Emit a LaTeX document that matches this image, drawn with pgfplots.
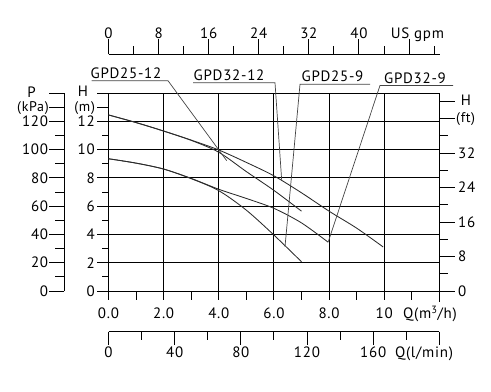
\documentclass[border=0pt]{standalone}
\usepackage{pgfplots}
\pgfplotsset{compat=1.18}
\usepackage{fontspec}
\setmainfont{PT Sans}[LetterSpace=5]
\definecolor{crv}{HTML}{2B2B2B}
\definecolor{ldr}{HTML}{444444}
\begin{document}
\begin{tikzpicture}[x=1bp,y=1bp, font=\fontsize{15bp}{17bp}\selectfont]
\useasboundingbox (-108.5,-100) rectangle (382.5,291);
\begin{axis}[
  at={(0,0)}, anchor=origin,
  x=27.57bp, y=14.13bp,
  xmin=0, xmax=12, ymin=0, ymax=14,
  xtick={2,4,...,10}, ytick={2,4,...,12},
  xticklabels={}, yticklabels={},
  major tick length=0pt,
  grid=major,
  grid style={black, line width=1bp},
  axis line style={black, line width=1bp},
  clip=false,
]
% GPD32-12
\addplot[smooth, crv, line width=0.85bp] coordinates {(0,12.46) (1,11.92) (2,11.32) (3,10.68) (4,9.98) (5,9.1) (6,8.15) (7,6.95) (8,5.65) (9,4.45) (9.96,3.12)};
% GPD25-12
\addplot[smooth, crv, line width=0.85bp] coordinates {(0,12.46) (1,11.92) (2,11.32) (3,10.66) (4,9.82) (5,8.45) (6,7.12) (7,5.65)};
% GPD32-9
\addplot[smooth, crv, line width=0.85bp] coordinates {(0,9.36) (1,9.05) (2,8.63) (3,7.97) (4,7.2) (5,6.55) (6,5.85) (7,4.82) (7.97,3.45)};
% GPD25-9
\addplot[smooth, crv, line width=0.85bp] coordinates {(0,9.36) (1,9.05) (2,8.63) (3,7.95) (4,7.1) (5,5.72) (6,3.96) (7,2.07)};
\end{axis}
% ---- main x ticks and labels
\foreach \q in {0,...,11} {\draw[line width=1bp] (27.57*\q,0) -- (27.57*\q,-9);}
\draw[line width=1bp] (330.84,0) -- (330.84,-11);
\foreach \q/\t in {0/0.0,2/2.0,4/4.0,6/6.0,8/8.0,10/10} {\node[anchor=base,inner sep=0] at (27.57*\q,-27.3) {\t};}
\node[anchor=base,inner sep=0] at (321.5,-27.3) {Q(m\textsuperscript{3}/h)};
% ---- left H (m) axis
\foreach \h in {1,3,...,11} {\draw[line width=1bp] (0,14.13*\h) -- (-6.7,14.13*\h);}
\foreach \h in {0,2,...,14,13} {\draw[line width=1bp] (0,14.13*\h) -- (-11.7,14.13*\h);}
\foreach \h in {0,2,...,12} {\node[anchor=east,inner sep=0] at (-13.5,14.13*\h) {\h};}
\node[anchor=east,inner sep=0,font=\fontsize{14bp}{16bp}\selectfont] at (-13.3,182.8) {(m)};
\node[anchor=center,inner sep=0] at (-25.5,199.3) {H};
% ---- P (kPa) axis
\draw[line width=1bp] (-44.5,0) -- (-44.5,197.82);
\foreach \h in {1,3,...,11} {\draw[line width=1bp] (-44.5,14.13*\h) -- (-53.5,14.13*\h);}
\foreach \h in {0,2,...,14,13} {\draw[line width=1bp] (-44.5,14.13*\h) -- (-59.2,14.13*\h);}
\foreach \h/\t in {0/0,2/20,4/40,6/60,8/80,10/100,12/120} {\node[anchor=east,inner sep=0] at (-60.2,14.13*\h) {\t};}
\node[anchor=east,inner sep=0,font=\fontsize{14bp}{16bp}\selectfont] at (-59.5,182.8) {(kPa)};
\node[anchor=center,inner sep=0] at (-77,199.3) {P};
% ---- right H (ft) axis
\foreach \f in {4,12,20,28,36} {\draw[line width=1bp] (330.84,4.3068*\f) -- (339.8,4.3068*\f);}
\foreach \f in {0,8,16,24,32,40,44} {\draw[line width=1bp] (330.84,4.3068*\f) -- (346.8,4.3068*\f);}
\foreach \f in {0,8,16,24,32} {\node[anchor=west,inner sep=0] at (349.5,4.3068*\f) {\f};}
\node[anchor=west,inner sep=0,font=\fontsize{14bp}{16bp}\selectfont] at (347.5,171.8) {(ft)};
\node[anchor=center,inner sep=0] at (357.5,190.5) {H};
% ---- top US gpm axis
\draw[line width=1bp] (0,236.7) -- (331.5,236.7);
\foreach \g in {0,8,...,48} {\draw[line width=1bp] (6.2617*\g,236.7) -- ++(0,15);}
\foreach \g in {4,12,...,52} {\draw[line width=1bp] (6.2617*\g,236.7) -- ++(0,8);}
\foreach \g in {0,8,...,40} {\node[anchor=base,inner sep=0] at (6.2617*\g,252.7) {\g};}
\node[anchor=base,inner sep=0] at (309,252.7) {US gpm};
% ---- bottom l/min axis
\draw[line width=1bp] (0,-40.7) -- (330.84,-40.7);
\foreach \l in {0,40,...,200} {\draw[line width=1bp] (1.6542*\l,-40.7) -- ++(0,-13);}
\foreach \l in {20,60,...,180} {\draw[line width=1bp] (1.6542*\l,-40.7) -- ++(0,-8);}
\foreach \l in {0,40,...,160} {\node[anchor=base,inner sep=0] at (1.6542*\l,-66.7) {\l};}
\node[anchor=base,inner sep=0] at (315.5,-66.7) {Q(l/min)};
% ---- leaders and model labels
\node[anchor=base,inner sep=0] at (17.5,212.7) {GPD25-12};
\draw[ldr,line width=0.7bp] (-16.8,210.3) -- (59.5,210.3) -- (118.2,130.3);
\node[anchor=base,inner sep=0] at (120.5,211) {GPD32-12};
\draw[ldr,line width=0.7bp] (84.5,208.3) -- (166.5,208.3) -- (173.2,110.5);
\node[anchor=base,inner sep=0] at (224,209.3) {GPD25-9};
\draw[ldr,line width=0.7bp] (261.5,206.7) -- (191.5,206.7) -- (176.5,44.3);
\node[anchor=base,inner sep=0] at (306.5,207.5) {GPD32-9};
\draw[ldr,line width=0.7bp] (344.5,205.6) -- (271.5,205.6) -- (219.8,49.3);
\end{tikzpicture}
\end{document}
